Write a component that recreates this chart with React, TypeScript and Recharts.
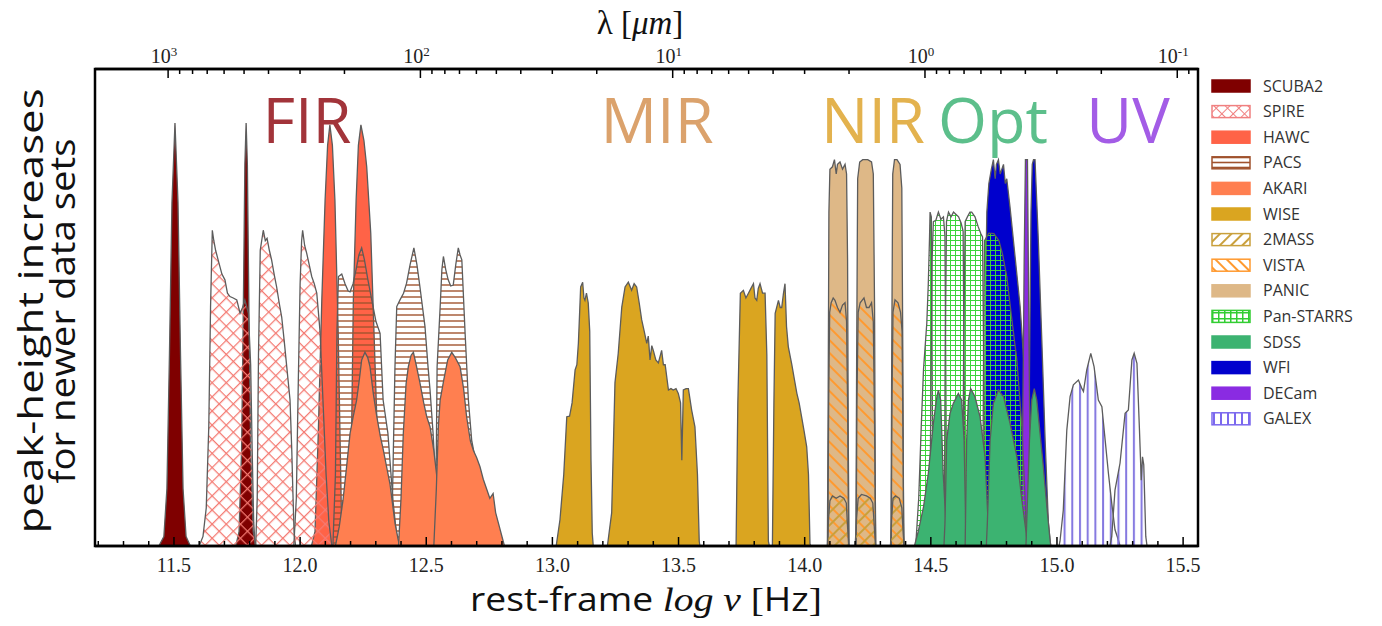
import React from "react";
import { ComposedChart, Area, XAxis, YAxis } from "recharts";

type Pt = [number, number];

// filter curves: [log nu, relative height]
const SCUBA2: Pt[][] = [
  [[11.44, 0], [11.46, 0.02], [11.472, 0.12], [11.482, 0.4], [11.492, 0.72], [11.504, 0.887], [11.516, 0.72], [11.526, 0.4], [11.536, 0.12], [11.548, 0.02], [11.565, 0]],
  [[11.745, 0], [11.758, 0.03], [11.768, 0.2], [11.775, 0.5], [11.781, 0.8], [11.786, 0.887], [11.791, 0.8], [11.797, 0.5], [11.804, 0.2], [11.814, 0.03], [11.825, 0]],
];

const HAWC: Pt[][] = [
  [[12.045, 0], [12.059, 0.03], [12.072, 0.236], [12.086, 0.516], [12.099, 0.725], [12.109, 0.84], [12.118, 0.883], [12.128, 0.84], [12.138, 0.725], [12.151, 0.446], [12.158, 0.236], [12.165, 0.03], [12.172, 0]],
  [[12.19, 0], [12.198, 0.03], [12.204, 0.236], [12.211, 0.516], [12.222, 0.725], [12.231, 0.84], [12.241, 0.883], [12.253, 0.85], [12.264, 0.795], [12.28, 0.656], [12.293, 0.446], [12.306, 0.236], [12.323, 0.03], [12.335, 0]],
];

const SPIRE: Pt[][] = [
  [[11.6, 0], [11.615, 0.02], [11.628, 0.08], [11.638, 0.25], [11.645, 0.5], [11.652, 0.662], [11.658, 0.64], [11.665, 0.62], [11.675, 0.6], [11.69, 0.57], [11.702, 0.558], [11.712, 0.53], [11.722, 0.523], [11.735, 0.52], [11.749, 0.516], [11.762, 0.488], [11.772, 0.5], [11.781, 0.516], [11.795, 0.488], [11.804, 0.38], [11.81, 0.2], [11.816, 0.05], [11.822, 0]],
  [[11.824, 0], [11.83, 0.1], [11.835, 0.4], [11.842, 0.62], [11.854, 0.662], [11.862, 0.64], [11.869, 0.645], [11.878, 0.62], [11.887, 0.6], [11.897, 0.57], [11.907, 0.543], [11.917, 0.51], [11.927, 0.48], [11.937, 0.43], [11.947, 0.376], [11.96, 0.306], [11.967, 0.2], [11.971, 0.12], [11.976, 0.03], [11.982, 0]],
  [[11.975, 0], [11.985, 0.1], [11.993, 0.35], [12.0, 0.55], [12.006, 0.64], [12.01, 0.662], [12.018, 0.63], [12.026, 0.614], [12.036, 0.59], [12.046, 0.565], [12.056, 0.55], [12.066, 0.53], [12.079, 0.45], [12.091, 0.3], [12.103, 0.15], [12.114, 0.05], [12.126, 0]],
];

const PACS: Pt[][] = [
  [[12.13, 0], [12.14, 0.15], [12.146, 0.45], [12.152, 0.565], [12.165, 0.57], [12.178, 0.55], [12.19, 0.535], [12.198, 0.533], [12.21, 0.55], [12.222, 0.58], [12.233, 0.61], [12.244, 0.625], [12.255, 0.6], [12.268, 0.56], [12.284, 0.516], [12.301, 0.47], [12.317, 0.446], [12.329, 0.306], [12.348, 0.236], [12.368, 0.096], [12.383, 0.02], [12.392, 0]],
  [[12.356, 0], [12.366, 0.1], [12.376, 0.376], [12.383, 0.502], [12.396, 0.516], [12.41, 0.53], [12.422, 0.551], [12.436, 0.59], [12.451, 0.625], [12.463, 0.59], [12.475, 0.543], [12.495, 0.46], [12.507, 0.376], [12.515, 0.327], [12.527, 0.237], [12.541, 0.096], [12.555, 0.02], [12.562, 0]],
  [[12.535, 0], [12.54, 0.2], [12.543, 0.376], [12.555, 0.5], [12.562, 0.58], [12.568, 0.607], [12.577, 0.58], [12.587, 0.558], [12.597, 0.545], [12.607, 0.547], [12.617, 0.59], [12.627, 0.625], [12.634, 0.61], [12.641, 0.6], [12.654, 0.446], [12.667, 0.306], [12.68, 0.222], [12.7, 0.166], [12.72, 0.096], [12.74, 0.04], [12.755, 0.03], [12.76, 0.048], [12.768, 0.03], [12.779, 0]],
];

const AKARI: Pt[][] = [
  [[12.14, 0], [12.155, 0.04], [12.17, 0.096], [12.185, 0.17], [12.198, 0.236], [12.21, 0.27], [12.224, 0.306], [12.235, 0.35], [12.244, 0.39], [12.257, 0.406], [12.268, 0.395], [12.277, 0.376], [12.29, 0.32], [12.304, 0.271], [12.318, 0.23], [12.33, 0.201], [12.345, 0.16], [12.356, 0.131], [12.366, 0.09], [12.376, 0.048], [12.39, 0.01], [12.396, 0]],
  [[12.39, 0], [12.4, 0.1], [12.409, 0.236], [12.42, 0.34], [12.429, 0.376], [12.44, 0.4], [12.449, 0.406], [12.46, 0.38], [12.475, 0.342], [12.49, 0.3], [12.502, 0.271], [12.515, 0.25], [12.53, 0.2], [12.541, 0.15], [12.552, 0.08], [12.562, 0]],
  [[12.53, 0], [12.54, 0.12], [12.548, 0.25], [12.555, 0.306], [12.57, 0.35], [12.585, 0.39], [12.601, 0.406], [12.615, 0.395], [12.634, 0.376], [12.648, 0.33], [12.66, 0.271], [12.675, 0.22], [12.687, 0.2], [12.7, 0.185], [12.713, 0.166], [12.726, 0.14], [12.739, 0.12], [12.752, 0.1], [12.765, 0.11], [12.775, 0.07], [12.79, 0.04], [12.8, 0.02], [12.81, 0]],
];

const WISE: Pt[][] = [
  [[13.015, 0], [13.03, 0.055], [13.045, 0.15], [13.057, 0.271], [13.068, 0.272], [13.078, 0.3], [13.09, 0.369], [13.097, 0.38], [13.103, 0.425], [13.108, 0.49], [13.112, 0.543], [13.12, 0.553], [13.125, 0.52], [13.129, 0.515], [13.135, 0.53], [13.142, 0.51], [13.148, 0.45], [13.153, 0.18], [13.158, 0.027], [13.162, 0]],
  [[13.218, 0], [13.235, 0.07], [13.248, 0.342], [13.261, 0.404], [13.275, 0.501], [13.288, 0.543], [13.301, 0.553], [13.314, 0.536], [13.324, 0.55], [13.334, 0.543], [13.344, 0.51], [13.354, 0.474], [13.364, 0.45], [13.374, 0.425], [13.38, 0.44], [13.387, 0.39], [13.394, 0.42], [13.4, 0.41], [13.41, 0.39], [13.42, 0.384], [13.433, 0.41], [13.44, 0.38], [13.447, 0.38], [13.46, 0.327], [13.47, 0.33], [13.479, 0.327], [13.49, 0.33], [13.499, 0.32], [13.508, 0.3], [13.513, 0.18], [13.519, 0.327], [13.53, 0.33], [13.539, 0.33], [13.552, 0.285], [13.565, 0.25], [13.575, 0.15], [13.582, 0.01], [13.585, 0]],
  [[13.728, 0], [13.735, 0.3], [13.745, 0.53], [13.757, 0.536], [13.767, 0.52], [13.777, 0.53], [13.787, 0.54], [13.797, 0.55], [13.803, 0.52], [13.81, 0.515], [13.816, 0.54], [13.823, 0.55], [13.833, 0.53], [13.843, 0.53], [13.85, 0.4], [13.856, 0.01], [13.86, 0]],
  [[13.872, 0], [13.878, 0.3], [13.883, 0.488], [13.896, 0.515], [13.903, 0.5], [13.909, 0.5], [13.916, 0.53], [13.922, 0.55], [13.928, 0.46], [13.935, 0.418], [13.949, 0.38], [13.959, 0.35], [13.969, 0.32], [13.978, 0.3], [13.988, 0.27], [13.998, 0.24], [14.008, 0.208], [14.015, 0.15], [14.021, 0.005], [14.024, 0]],
];

const PANIC: Pt[][] = [
  [[14.09, 0], [14.093, 0.3], [14.096, 0.7], [14.1, 0.79], [14.11, 0.795], [14.118, 0.81], [14.125, 0.78], [14.13, 0.8], [14.14, 0.805], [14.15, 0.79], [14.16, 0.8], [14.166, 0.78], [14.17, 0.6], [14.173, 0.2], [14.176, 0]],
  [[14.203, 0], [14.206, 0.4], [14.21, 0.77], [14.218, 0.805], [14.23, 0.81], [14.25, 0.81], [14.265, 0.805], [14.272, 0.78], [14.277, 0.5], [14.28, 0.1], [14.282, 0]],
  [[14.342, 0], [14.345, 0.4], [14.349, 0.78], [14.356, 0.81], [14.366, 0.81], [14.378, 0.8], [14.385, 0.75], [14.389, 0.4], [14.392, 0.05], [14.394, 0]],
];

const VISTA: Pt[][] = [
  [[14.092, 0], [14.095, 0.3], [14.099, 0.49], [14.105, 0.51], [14.113, 0.52], [14.12, 0.515], [14.13, 0.5], [14.14, 0.49], [14.15, 0.505], [14.16, 0.51], [14.166, 0.47], [14.17, 0.3], [14.174, 0]],
  [[14.204, 0], [14.207, 0.3], [14.212, 0.49], [14.22, 0.51], [14.235, 0.52], [14.245, 0.5], [14.255, 0.5], [14.265, 0.51], [14.272, 0.47], [14.277, 0.25], [14.281, 0]],
  [[14.343, 0], [14.346, 0.3], [14.35, 0.49], [14.358, 0.516], [14.37, 0.51], [14.38, 0.49], [14.386, 0.45], [14.39, 0.2], [14.393, 0]],
];

const TWOMASS: Pt[][] = [
  [[14.09, 0], [14.095, 0.06], [14.1, 0.095], [14.11, 0.105], [14.125, 0.1], [14.14, 0.105], [14.155, 0.1], [14.165, 0.09], [14.17, 0.04], [14.175, 0]],
  [[14.2, 0], [14.206, 0.06], [14.212, 0.1], [14.225, 0.108], [14.245, 0.105], [14.26, 0.1], [14.27, 0.09], [14.276, 0.04], [14.281, 0]],
  [[14.34, 0], [14.345, 0.06], [14.35, 0.1], [14.36, 0.105], [14.375, 0.1], [14.385, 0.08], [14.39, 0.03], [14.394, 0]],
];

const WFI: Pt[][] = [
  [[14.712, 0], [14.716, 0.5], [14.722, 0.7], [14.73, 0.76], [14.74, 0.79], [14.748, 0.81], [14.755, 0.77], [14.76, 0.8], [14.768, 0.81], [14.775, 0.78], [14.788, 0.8], [14.795, 0.76], [14.801, 0.77], [14.814, 0.71], [14.834, 0.606], [14.854, 0.502], [14.867, 0.4], [14.88, 0.28], [14.89, 0.15], [14.9, 0]],
  [[14.885, 0], [14.89, 0.3], [14.897, 0.7], [14.902, 0.8], [14.907, 0.81], [14.913, 0.81], [14.92, 0.72], [14.926, 0.642], [14.94, 0.43], [14.953, 0.222], [14.966, 0.048], [14.975, 0]],
];

const DECAM: Pt[][] = [
  [[14.86, 0], [14.865, 0.3], [14.87, 0.6], [14.875, 0.81], [14.883, 0.81], [14.888, 0.5], [14.893, 0.2], [14.9, 0]],
];

const PANSTARRS: Pt[][] = [
  [[14.44, 0], [14.452, 0.1], [14.462, 0.25], [14.471, 0.37], [14.484, 0.467], [14.49, 0.55], [14.495, 0.65], [14.497, 0.7], [14.502, 0.69], [14.506, 0.3], [14.51, 0]],
  [[14.495, 0], [14.5, 0.3], [14.505, 0.6], [14.51, 0.68], [14.52, 0.683], [14.53, 0.7], [14.54, 0.685], [14.55, 0.69], [14.556, 0.65], [14.56, 0.3], [14.564, 0]],
  [[14.553, 0], [14.557, 0.4], [14.562, 0.68], [14.57, 0.7], [14.58, 0.69], [14.59, 0.7], [14.6, 0.695], [14.61, 0.69], [14.62, 0.677], [14.628, 0.66], [14.633, 0.3], [14.637, 0]],
  [[14.626, 0], [14.63, 0.4], [14.636, 0.68], [14.645, 0.69], [14.655, 0.7], [14.662, 0.7], [14.675, 0.69], [14.688, 0.669], [14.698, 0.655], [14.705, 0.648], [14.711, 0.3], [14.715, 0]],
  [[14.705, 0], [14.709, 0.4], [14.713, 0.64], [14.73, 0.656], [14.75, 0.655], [14.77, 0.64], [14.785, 0.61], [14.801, 0.565], [14.82, 0.48], [14.841, 0.39], [14.861, 0.25], [14.872, 0.12], [14.88, 0]],
];

const SDSS: Pt[][] = [
  [[14.435, 0], [14.45, 0.03], [14.471, 0.082], [14.49, 0.152], [14.51, 0.257], [14.524, 0.313], [14.53, 0.327], [14.539, 0.306], [14.549, 0.152], [14.56, 0.048], [14.566, 0]],
  [[14.552, 0], [14.556, 0.048], [14.563, 0.222], [14.576, 0.278], [14.589, 0.299], [14.609, 0.32], [14.622, 0.306], [14.632, 0.222], [14.638, 0.048], [14.642, 0]],
  [[14.636, 0], [14.642, 0.222], [14.649, 0.306], [14.658, 0.33], [14.675, 0.313], [14.695, 0.271], [14.715, 0.187], [14.724, 0.082], [14.732, 0]],
  [[14.72, 0], [14.724, 0.048], [14.735, 0.222], [14.748, 0.299], [14.768, 0.327], [14.788, 0.313], [14.814, 0.257], [14.841, 0.187], [14.861, 0.096], [14.878, 0.027], [14.883, 0]],
  [[14.877, 0], [14.88, 0.048], [14.891, 0.222], [14.9, 0.306], [14.91, 0.33], [14.92, 0.306], [14.933, 0.236], [14.946, 0.166], [14.96, 0.082], [14.973, 0.01], [14.976, 0]],
];

const GALEX: Pt[][] = [
  [[15.008, 0], [15.012, 0.01], [15.025, 0.075], [15.039, 0.243], [15.052, 0.313], [15.065, 0.338], [15.085, 0.348], [15.098, 0.331], [15.105, 0.324], [15.118, 0.369], [15.134, 0.404], [15.147, 0.376], [15.164, 0.306], [15.178, 0.292], [15.191, 0.222], [15.204, 0.152], [15.217, 0.09], [15.23, 0.034], [15.243, 0.013], [15.25, 0]],
  [[15.21, 0], [15.217, 0.02], [15.23, 0.117], [15.25, 0.174], [15.27, 0.278], [15.283, 0.285], [15.297, 0.39], [15.306, 0.404], [15.317, 0.383], [15.327, 0.243], [15.334, 0.138], [15.339, 0.187], [15.344, 0.17], [15.352, 0.02], [15.357, 0]],
];

const LEGEND_NAMES = ["SCUBA2", "SPIRE", "HAWC", "PACS", "AKARI", "WISE", "2MASS", "VISTA", "PANIC", "Pan-STARRS", "SDSS", "WFI", "DECam", "GALEX"];
const REGION_LABELS = [
  { text: "FIR", x: 307, color: "#a2343a" },
  { text: "MIR", x: 657, color: "#dba26c" },
  { text: "NIR", x: 873, color: "#e3b24e" },
  { text: "Opt", x: 993, color: "#5cbf8b" },
  { text: "UV", x: 1128, color: "#a35ce6" },
];

const LOG_C = 14.4768;
const X_DOMAIN: [number, number] = [11.187, 15.559];
const BOTTOM_MAJOR = [11.5, 12.0, 12.5, 13.0, 13.5, 14.0, 14.5, 15.0, 15.5];
const LAMBDA_EXP = [3, 2, 1, 0, -1, -2];

const bottomTicks: number[] = [];
for (let i = 112; i <= 155; i++) bottomTicks.push(i / 10);

const topTicks: number[] = [];
const topMajor: number[] = [];
for (const e of LAMBDA_EXP) {
  for (let k = 1; k <= 9; k++) {
    const v = LOG_C - e - Math.log10(k);
    if (v < X_DOMAIN[0] || v > X_DOMAIN[1]) continue;
    topTicks.push(v);
    if (k === 1) topMajor.push(v);
  }
}

const OUTLINE = "#5c5c5c";

// plot box in page pixels
const PLOT = { left: 95, top: 69, right: 1198, bottom: 546 };

// draw order (later = on top)
const SERIES: { name: string; bands: Pt[][]; fill: string }[] = [
  { name: "SCUBA2", bands: SCUBA2, fill: "#7f0000" },
  { name: "HAWC", bands: HAWC, fill: "#ff6347" },
  { name: "SPIRE", bands: SPIRE, fill: "url(#pSpire)" },
  { name: "PACS", bands: PACS, fill: "url(#pPacs)" },
  { name: "AKARI", bands: AKARI, fill: "#ff7f50" },
  { name: "WISE", bands: WISE, fill: "#daa520" },
  { name: "PANIC", bands: PANIC, fill: "#deb887" },
  { name: "VISTA", bands: VISTA, fill: "url(#pVista)" },
  { name: "2MASS", bands: TWOMASS, fill: "url(#p2mass)" },
  { name: "WFI", bands: WFI, fill: "#0000cd" },
  { name: "DECam", bands: DECAM, fill: "#8a2be2" },
  { name: "Pan-STARRS", bands: PANSTARRS, fill: "url(#pPan)" },
  { name: "SDSS", bands: SDSS, fill: "#3cb371" },
  { name: "GALEX", bands: GALEX, fill: "url(#pGalex)" },
];

const rows: Record<string, number>[] = [];
const keys: { key: string; fill: string }[] = [];
SERIES.forEach((s) => {
  s.bands.forEach((band, i) => {
    const key = `${s.name}_${i}`;
    keys.push({ key, fill: s.fill });
    band.forEach(([x, y]) => rows.push({ x, [key]: y }));
  });
});
rows.sort((a, b) => a.x - b.x);

const LEGEND_SWATCH: Record<string, { fill: string; stroke: string }> = {
  SCUBA2: { fill: "#7f0000", stroke: "#7f0000" },
  SPIRE: { fill: "url(#lSpire)", stroke: "#f08080" },
  HAWC: { fill: "#ff6347", stroke: "#ff6347" },
  PACS: { fill: "url(#lPacs)", stroke: "#a0522d" },
  AKARI: { fill: "#ff7f50", stroke: "#ff7f50" },
  WISE: { fill: "#daa520", stroke: "#daa520" },
  "2MASS": { fill: "url(#l2mass)", stroke: "#c9a03c" },
  VISTA: { fill: "url(#lVista)", stroke: "#ff9a30" },
  PANIC: { fill: "#deb887", stroke: "#deb887" },
  "Pan-STARRS": { fill: "url(#lPan)", stroke: "#32cd32" },
  SDSS: { fill: "#3cb371", stroke: "#3cb371" },
  WFI: { fill: "#0000cd", stroke: "#0000cd" },
  DECam: { fill: "#8a2be2", stroke: "#8a2be2" },
  GALEX: { fill: "url(#lGalex)", stroke: "#7b68ee" },
};

const serif = "'Liberation Serif', 'DejaVu Serif', serif";
const sans = "'Open Sans', 'Noto Sans', sans-serif";

function BottomTick(props: any) {
  const { x, y, payload } = props;
  const v = payload.value as number;
  const major = BOTTOM_MAJOR.some((m) => Math.abs(m - v) < 1e-6);
  return (
    <g>
      <line x1={x} x2={x} y1={y} y2={y - (major ? 9 : 5)} stroke="#000" strokeWidth={1.5} />
      {major && (
        <text x={x} y={y + 26} textAnchor="middle" fontFamily={serif} fontSize={20} fill="#222">
          {v.toFixed(1)}
        </text>
      )}
    </g>
  );
}

function TopTick(props: any) {
  const { x, y, payload } = props;
  const v = payload.value as number;
  const major = topMajor.some((m) => Math.abs(m - v) < 1e-6);
  const exp = Math.round(LOG_C - v);
  return (
    <g>
      <line x1={x} x2={x} y1={y} y2={y + (major ? 9 : 5)} stroke="#000" strokeWidth={1.5} />
      {major && (
        <text x={x - 4} y={y - 6} textAnchor="middle" fontFamily={serif} fontSize={20} fill="#222">
          10
          <tspan dy={-7} fontSize={13}>
            {exp}
          </tspan>
        </text>
      )}
    </g>
  );
}

export default function App() {
  return (
    <div style={{ position: "absolute", left: 0, top: 0, width: 1382, height: 626, background: "#fff" }}>
      <ComposedChart
        width={1382}
        height={626}
        data={rows}
        margin={{ top: 39, right: 184, bottom: 50, left: 95 }}
      >
        <defs>
          <pattern id="pSpire" patternUnits="userSpaceOnUse" width={10} height={10} patternTransform="rotate(45)">
            <path d="M0,0 H10 M0,0 V10" stroke="#f47a72" strokeWidth={2.5} />
          </pattern>
          <pattern id="pPacs" patternUnits="userSpaceOnUse" width={6} height={6}>
            <path d="M0,3 H6" stroke="#a0522d" strokeWidth={1.4} />
          </pattern>
          <pattern id="pVista" patternUnits="userSpaceOnUse" width={9} height={9} patternTransform="rotate(-45)">
            <path d="M4,0 V9" stroke="#ff9a30" strokeWidth={2} />
          </pattern>
          <pattern id="p2mass" patternUnits="userSpaceOnUse" width={9} height={9} patternTransform="rotate(45)">
            <path d="M4,0 V9" stroke="#c9a03c" strokeWidth={2} />
          </pattern>
          <pattern id="pPan" patternUnits="userSpaceOnUse" width={5} height={5}>
            <path d="M0,0 H5 M0,0 V5" stroke="#3ad43a" strokeWidth={2} />
          </pattern>
          <pattern id="pGalex" patternUnits="userSpaceOnUse" width={7.7} height={8}>
            <path d="M2,0 V8" stroke="#8478e0" strokeWidth={2} />
          </pattern>
        </defs>
        <XAxis
          xAxisId="b"
          dataKey="x"
          type="number"
          domain={X_DOMAIN}
          allowDataOverflow
          ticks={bottomTicks}
          interval={0}
          tickSize={0}
          tickMargin={0}
          tickLine={false}
          tick={<BottomTick />}
          axisLine={{ stroke: "#000", strokeWidth: 2.5 }}
          height={30}
        />
        <XAxis
          xAxisId="t"
          dataKey="x"
          type="number"
          orientation="top"
          domain={X_DOMAIN}
          allowDataOverflow
          ticks={topTicks}
          interval={0}
          tickSize={0}
          tickMargin={0}
          tickLine={false}
          tick={<TopTick />}
          axisLine={{ stroke: "#000", strokeWidth: 2.5 }}
          height={30}
        />
        <YAxis yAxisId="l" type="number" domain={[0, 1]} allowDataOverflow tick={false} tickLine={false} width={0} axisLine={{ stroke: "#000", strokeWidth: 2.5 }} />
        <YAxis yAxisId="r" orientation="right" type="number" domain={[0, 1]} allowDataOverflow tick={false} tickLine={false} width={0} axisLine={{ stroke: "#000", strokeWidth: 2.5 }} />
        {keys.map((k) => (
          <Area
            key={k.key}
            xAxisId="b"
            yAxisId="l"
            dataKey={k.key}
            type="linear"
            connectNulls
            fill={k.fill}
            fillOpacity={1}
            stroke={OUTLINE}
            strokeWidth={1.3}
            dot={false}
            activeDot={false}
            isAnimationActive={false}
            legendType="none"
          />
        ))}
      </ComposedChart>

      <svg width={1382} height={626} style={{ position: "absolute", left: 0, top: 0, pointerEvents: "none" }}>
        <defs>
          <pattern id="lSpire" patternUnits="userSpaceOnUse" width={8} height={8} patternTransform="rotate(45)">
            <path d="M0,0 H8 M0,0 V8" stroke="#f08080" strokeWidth={2} />
          </pattern>
          <pattern id="lPacs" patternUnits="userSpaceOnUse" width={5} height={5}>
            <path d="M0,2.5 H5" stroke="#a0522d" strokeWidth={1.6} />
          </pattern>
          <pattern id="lVista" patternUnits="userSpaceOnUse" width={8} height={8} patternTransform="rotate(-45)">
            <path d="M4,0 V8" stroke="#ff9a30" strokeWidth={2} />
          </pattern>
          <pattern id="l2mass" patternUnits="userSpaceOnUse" width={8} height={8} patternTransform="rotate(45)">
            <path d="M4,0 V8" stroke="#c9a03c" strokeWidth={2} />
          </pattern>
          <pattern id="lPan" patternUnits="userSpaceOnUse" width={6} height={6}>
            <path d="M0,0 H6 M0,0 V6" stroke="#32cd32" strokeWidth={3} />
          </pattern>
          <pattern id="lGalex" patternUnits="userSpaceOnUse" width={7} height={7}>
            <path d="M3,0 V7" stroke="#7b68ee" strokeWidth={2} />
          </pattern>
        </defs>

        <rect
          x={PLOT.left}
          y={PLOT.top}
          width={PLOT.right - PLOT.left}
          height={PLOT.bottom - PLOT.top}
          fill="none"
          stroke="#000"
          strokeWidth={2.5}
        />

        <text x={640} y={34} textAnchor="middle" fontFamily={serif} fontSize={33} fill="#111">
          λ [<tspan fontStyle="italic">μm</tspan>]
        </text>

        <text x={646} y={611} textAnchor="middle" fontSize={32} fill="#111" fontFamily={sans} textLength={352} lengthAdjust="spacingAndGlyphs">
          rest-frame <tspan fontFamily={serif} fontStyle="italic" fontSize={34}>log ν</tspan> <tspan fontFamily={serif} fontSize={34}>[</tspan>Hz<tspan fontFamily={serif} fontSize={34}>]</tspan>
        </text>

        <text transform="translate(43,311) rotate(-90)" textAnchor="middle" fontFamily={sans} fontSize={35} fill="#111" textLength={445} lengthAdjust="spacingAndGlyphs">
          peak-height increases
        </text>
        <text transform="translate(75,311) rotate(-90)" textAnchor="middle" fontFamily={sans} fontSize={35} fill="#111" textLength={345} lengthAdjust="spacingAndGlyphs">
          for newer data sets
        </text>

        {REGION_LABELS.map((r) => (
          <text key={r.text} x={r.x} y={143} textAnchor="middle" fontFamily={sans} fontSize={63} fill={r.color}>
            {r.text}
          </text>
        ))}

        {LEGEND_NAMES.map((n, i) => {
          const cy = 86 + i * 25.6;
          const sw = LEGEND_SWATCH[n];
          return (
            <g key={n}>
              <rect x={1212} y={cy - 6} width={38} height={12} fill="#fff" />
              <rect x={1212} y={cy - 6} width={38} height={12} fill={sw.fill} stroke={sw.stroke} strokeWidth={1.5} />
              <text x={1263} y={cy + 5.5} fontFamily={sans} fontSize={16} fill="#333">
                {n}
              </text>
            </g>
          );
        })}
      </svg>
    </div>
  );
}
